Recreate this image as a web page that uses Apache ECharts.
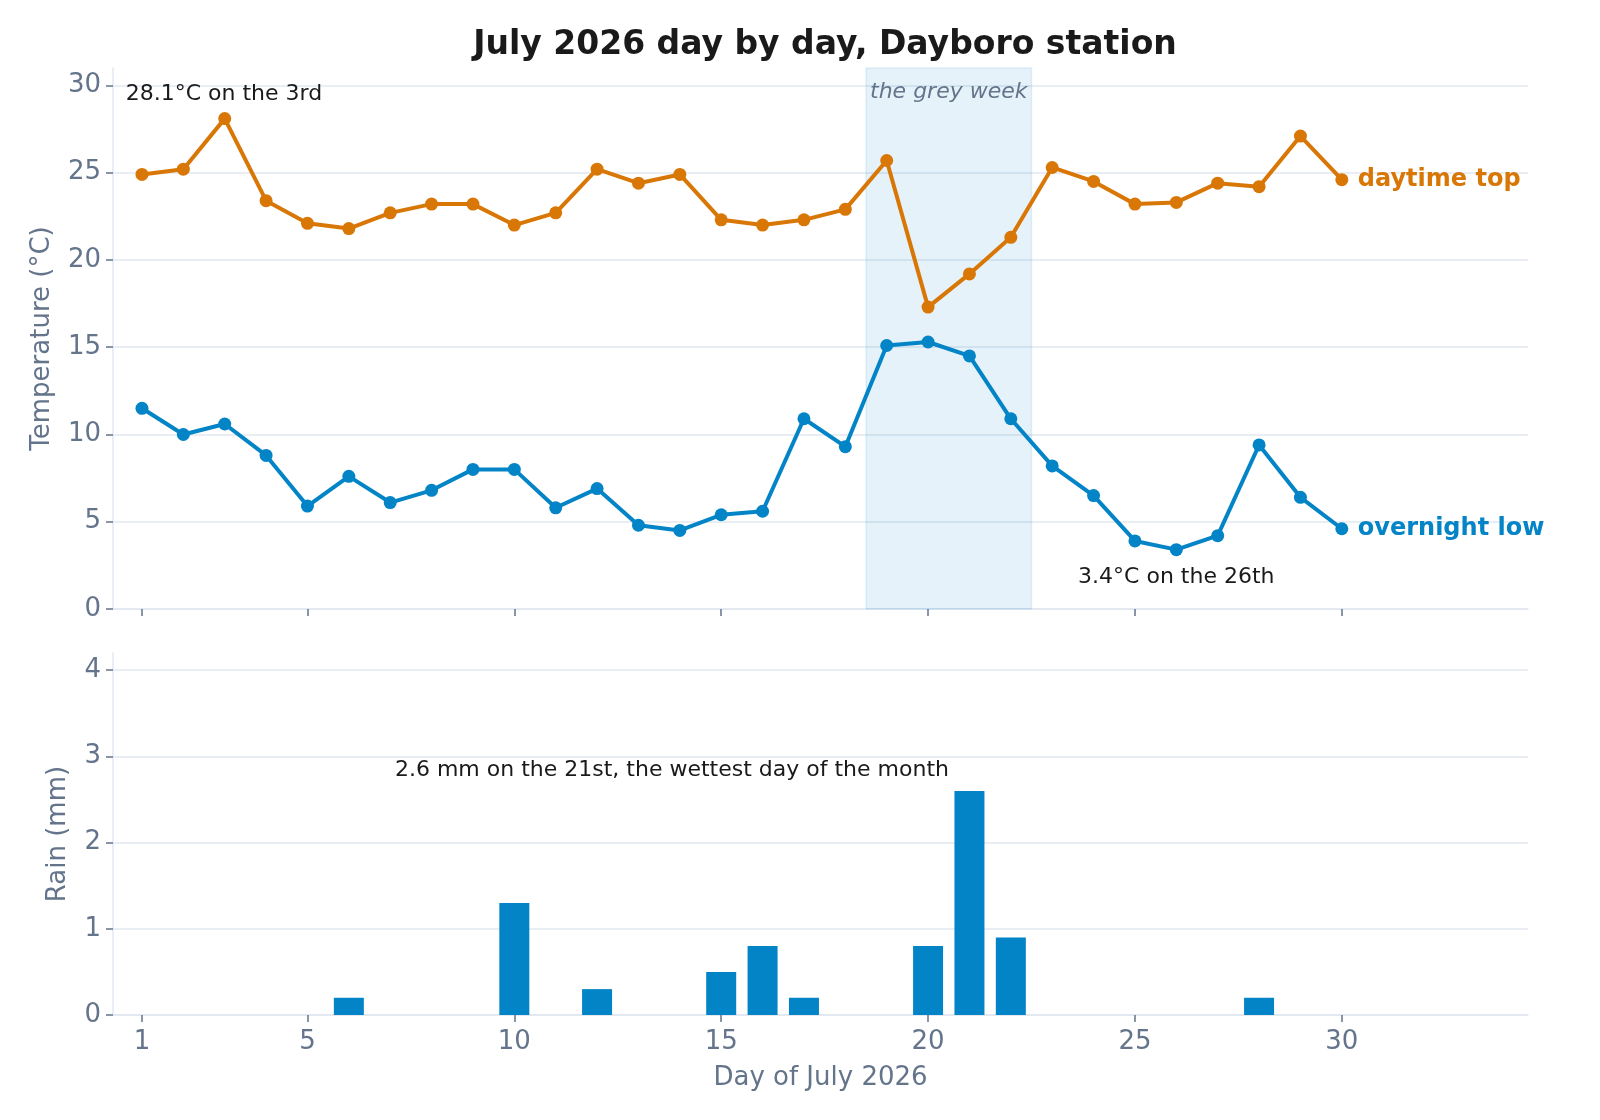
<!DOCTYPE html>
<html>
<head>
<meta charset="utf-8">
<script src="https://cdn.jsdelivr.net/npm/echarts@6/dist/echarts.min.js"></script>
<style>
  html, body { margin: 0; padding: 0; background: #fff; }
  #chart { width: 1600px; height: 1120px; }
</style>
</head>
<body>
<div id="chart"></div>
<script>
// day of month, 1..30
const days = [1, 2, 3, 4, 5, 6, 7, 8, 9, 10, 11, 12, 13, 14, 15,
  16, 17, 18, 19, 20, 21, 22, 23, 24, 25, 26, 27, 28, 29, 30];
const dayTop = [24.9, 25.2, 28.1, 23.4, 22.1, 21.8, 22.7, 23.2, 23.2, 22.0,
  22.7, 25.2, 24.4, 24.9, 22.3, 22.0, 22.3, 22.9, 25.7, 17.3,
  19.2, 21.3, 25.3, 24.5, 23.2, 23.3, 24.4, 24.2, 27.1, 24.6];
const nightLow = [11.5, 10.0, 10.6, 8.8, 5.9, 7.6, 6.1, 6.8, 8.0, 8.0,
  5.8, 6.9, 4.8, 4.5, 5.4, 5.6, 10.9, 9.3, 15.1, 15.3,
  14.5, 10.9, 8.2, 6.5, 3.9, 3.4, 4.2, 9.4, 6.4, 4.6];
const rain = [0, 0, 0, 0, 0, 0.2, 0, 0, 0, 1.3,
  0, 0.3, 0, 0, 0.5, 0.8, 0.2, 0, 0, 0.8,
  2.6, 0.9, 0, 0, 0, 0, 0, 0.2, 0, 0];
const dayTicks = [1, 5, 10, 15, 20, 25, 30];
const tempTicks = [0, 5, 10, 15, 20, 25, 30];
const rainTicks = [0, 1, 2, 3, 4];
const greyWeek = [18.5, 22.5];

const ORANGE = '#d97706';
const BLUE = '#0284c7';
const SLATE = '#64748b';
const LIGHT = '#e2e8f0';
const FONT = 'DejaVu Sans';

const chart = echarts.init(document.getElementById('chart'));

function pairs(ys) {
  return days.map((d, i) => [d, ys[i]]);
}

function xAxisFor(gridIndex, withLabels) {
  return {
    type: 'value',
    gridIndex: gridIndex,
    min: 0.3,
    max: 34.5,
    axisLine: { show: true, lineStyle: { color: LIGHT, width: 1.5 } },
    axisTick: { show: true, customValues: dayTicks, length: 7, lineStyle: { color: SLATE, width: 1.5 } },
    axisLabel: {
      show: withLabels, customValues: dayTicks, color: SLATE,
      fontSize: 26, fontFamily: FONT, margin: 14
    },
    splitLine: { show: false },
    name: withLabels ? 'Day of July 2026' : '',
    nameLocation: 'middle',
    nameGap: 50,
    nameTextStyle: { color: SLATE, fontSize: 26, fontFamily: FONT }
  };
}

function yAxisFor(gridIndex, max, ticks, name, gap) {
  return {
    type: 'value',
    gridIndex: gridIndex,
    min: 0,
    max: max,
    interval: ticks[1] - ticks[0],
    axisLine: { show: true, lineStyle: { color: LIGHT, width: 1.5 } },
    axisTick: { show: true, customValues: ticks, length: 7, lineStyle: { color: SLATE, width: 1.5 } },
    axisLabel: {
      customValues: ticks, color: SLATE, fontSize: 26, fontFamily: FONT, margin: 12
    },
    splitLine: { show: true, lineStyle: { color: LIGHT, width: 1.5 } },
    name: name,
    nameLocation: 'middle',
    nameGap: gap,
    nameTextStyle: { color: SLATE, fontSize: 26, fontFamily: FONT }
  };
}

const note = (coord, text, align) => ({
  coord: coord,
  symbolSize: 0,
  label: {
    show: true, position: 'inside', formatter: text, align: align,
    verticalAlign: 'middle', color: '#1a1a1a', fontSize: 22, fontFamily: FONT
  }
});

const option = {
  animation: false,
  backgroundColor: '#ffffff',
  title: {
    text: 'July 2026 day by day, Dayboro station',
    left: 820,
    top: 24,
    textAlign: 'center',
    textStyle: { color: '#1a1a1a', fontSize: 33, fontWeight: 'bold', fontFamily: FONT }
  },
  grid: [
    { left: 113, right: 72, top: 68, height: 541 },
    { left: 113, right: 72, top: 653, height: 362 }
  ],
  xAxis: [xAxisFor(0, false), xAxisFor(1, true)],
  yAxis: [
    yAxisFor(0, 31, tempTicks, 'Temperature (°C)', 58),
    yAxisFor(1, 4.2, rainTicks, 'Rain (mm)', 42)
  ],
  series: [
    {
      name: 'daytime top',
      type: 'line',
      xAxisIndex: 0, yAxisIndex: 0,
      data: pairs(dayTop),
      color: ORANGE,
      symbol: 'circle', symbolSize: 13,
      lineStyle: { width: 4 },
      z: 3,
      endLabel: {
        show: true, formatter: 'daytime top', color: ORANGE, distance: 16,
        fontSize: 24, fontWeight: 'bold', fontFamily: FONT
      },
      markArea: {
        silent: true,
        itemStyle: { color: 'rgba(2,132,199,0.1)', borderColor: 'rgba(2,132,199,0.1)', borderWidth: 1.5 },
        label: {
          show: true, position: 'insideTop', distance: 14, color: SLATE,
          fontStyle: 'italic', fontSize: 22, fontFamily: FONT
        },
        data: [[{ name: 'the grey week', xAxis: greyWeek[0] }, { xAxis: greyWeek[1] }]]
      },
      markPoint: {
        silent: true,
        data: [note([0.606, 29.47], '28.1°C on the 3rd', 'left')]
      }
    },
    {
      name: 'overnight low',
      type: 'line',
      xAxisIndex: 0, yAxisIndex: 0,
      data: pairs(nightLow),
      color: BLUE,
      symbol: 'circle', symbolSize: 13,
      lineStyle: { width: 4 },
      z: 3,
      endLabel: {
        show: true, formatter: 'overnight low', color: BLUE, distance: 16,
        fontSize: 24, fontWeight: 'bold', fontFamily: FONT
      },
      markPoint: {
        silent: true,
        data: [note([26, 1.82], '3.4°C on the 26th', 'center')]
      }
    },
    {
      name: 'rain',
      type: 'bar',
      xAxisIndex: 1, yAxisIndex: 1,
      data: pairs(rain),
      color: BLUE,
      barWidth: 30,
      markPoint: {
        silent: true,
        data: [note([13.81, 2.84], '2.6 mm on the 21st, the wettest day of the month', 'center')]
      }
    }
  ]
};

chart.setOption(option);
</script>
</body>
</html>
